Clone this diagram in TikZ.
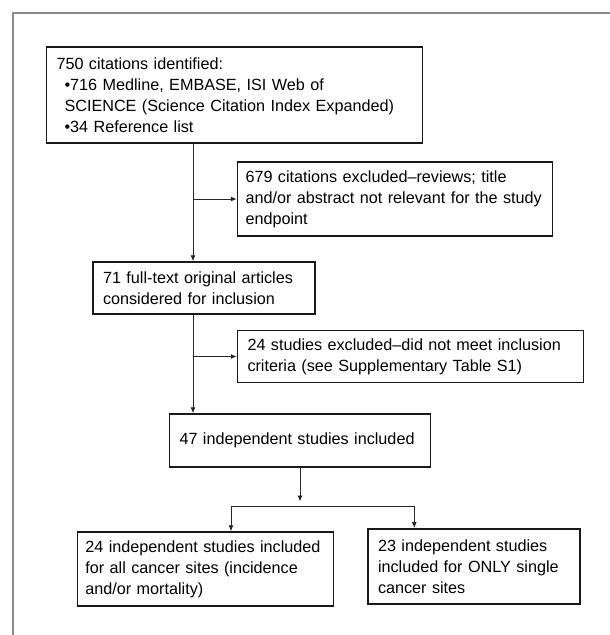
\documentclass[tikz,border=0pt]{standalone}
\usepackage{fontspec}
\setmainfont{Liberation Sans}
\usepackage{xcolor}
\usetikzlibrary{arrows.meta}

\tikzset{
  every box/.style={draw=black!90, line width=1.5pt, align=left, inner xsep=10pt, inner ysep=0pt,
    font=\fontsize{16.2}{21}\selectfont},
  every link/.style={line width=0.9pt, black!85},
  frame line/.style={line width=2.4pt, black!45}
}

\begin{document}
\begin{tikzpicture}[x=1pt, y=-1pt, >={Latex[length=6pt,width=5pt]}]

\useasboundingbox (0,0) rectangle (610,635);

% outer frame
\draw [frame line] (610,13) -- (13,13) -- (13,635);

\node [every box, text width=356pt, minimum height=96pt] (ident) at (234.5,95)
  {750 citations identified:\\
   \hspace*{8pt}•716 Medline, EMBASE, ISI Web of\\
   \hspace*{8pt}SCIENCE (Science Citation Index Expanded)\\
   \hspace*{8pt}•34 Reference list};

\node [every box, inner xsep=8pt, text width=299pt, minimum height=74pt] (excl-1) at (395,199)
  {679 citations excluded--reviews; title\\
   and/or abstract not relevant for the study\\
   endpoint};

\node [every box, text width=202pt, minimum height=52pt] (fulltext) at (204,288)
  {71 full-text original articles\\
   considered for inclusion};

\node [every box, text width=326pt, minimum height=52pt] (excl-2) at (410.5,356.5)
  {24 studies excluded--did not meet inclusion\\
   criteria (see Supplementary Table S1)};

\node [every box, text width=241pt, minimum height=53pt] (incl) at (300,440.5)
  {47 independent studies included};

\node [every box, inner xsep=8pt, text width=240pt, minimum height=74pt] (all-sites) at (205.4,569)
  {24 independent studies included\\
   for all cancer sites (incidence\\
   and/or mortality)};

\node [every box, text width=192pt, minimum height=75pt] (single-sites) at (474,566.3)
  {23 independent studies\\
   included for ONLY single\\
   cancer sites};

\coordinate (spine) at (193,0);
\coordinate (split-top) at (300,501.5);
\coordinate (split-l) at (231,506);
\coordinate (split-r) at (414.3,506);

\draw [every link, ->] (ident.south -| spine) -- (fulltext.north -| spine);
\draw [every link, ->] (fulltext.south -| spine) -- (incl.north -| spine);

\foreach \b in {excl-1, excl-2}
  \draw [every link, ->] (\b.west -| spine) -- (\b.west);

\draw [every link, ->] (incl.south) -- (split-top);
\draw [every link] (split-l) -- (split-r);
\draw [every link, ->] (split-l) -- (all-sites.north -| split-l);
\draw [every link, ->] (split-r) -- (single-sites.north -| split-r);

\end{tikzpicture}
\end{document}
